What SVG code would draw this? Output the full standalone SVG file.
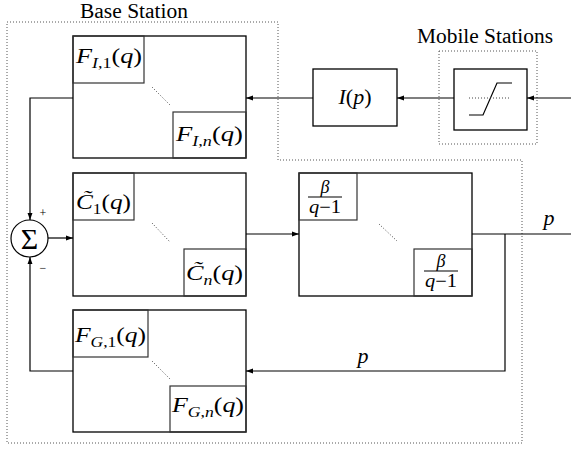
<svg xmlns="http://www.w3.org/2000/svg" width="571" height="449" viewBox="0 0 571 449" font-family="'Times New Roman', Times, 'Liberation Serif', 'Nimbus Roman', serif">
<defs>
<marker id="ah" viewBox="0 0 10 10" refX="10" refY="5" markerWidth="7" markerHeight="7" markerUnits="userSpaceOnUse" orient="auto">
<path d="M0,1.5 L10,5 L0,8.5 Z" fill="#000"/>
</marker>
</defs>
<style>
.box{fill:none;stroke:#000;stroke-width:1.3}
.inner{fill:none;stroke:#333;stroke-width:1.2}
.ln{fill:none;stroke:#000;stroke-width:1.2}
.arr{fill:none;stroke:#000;stroke-width:1.2;marker-end:url(#ah)}
.dot{fill:none;stroke:#555;stroke-width:1;stroke-dasharray:1 2}
.dg{fill:none;stroke:#444;stroke-width:1;stroke-dasharray:1 2}
.lbl{font-size:20px;fill:#000}
.m{font-size:22px;font-style:italic;fill:#000}
.up{font-style:normal}
.sub{font-size:15px}
.fr{font-size:18px}
.pm{font-size:12px;fill:#000}
</style>

<g id="base-station-boundary">
<path class="dot" d="M7,22 H278 V160 H522 V443 H7 Z"/>
<text class="lbl" x="134" y="18" text-anchor="middle" textLength="108" lengthAdjust="spacingAndGlyphs">Base Station</text>
</g>

<g id="mobile-stations-boundary">
<rect class="dot" x="439" y="51" width="98" height="93"/>
<text class="lbl" x="485" y="43" text-anchor="middle" textLength="136" lengthAdjust="spacingAndGlyphs">Mobile Stations</text>
</g>

<g id="saturation">
<rect class="box" x="454" y="69" width="73" height="61"/>
<path class="ln" d="M469,115 H483 L497,83 H512"/>
<path class="dg" d="M469,98 H511"/>
</g>

<g id="I-block">
<rect class="box" x="313" y="69" width="84" height="57"/>
<text class="m" x="355" y="104" text-anchor="middle">I<tspan class="up">(</tspan>p<tspan class="up">)</tspan></text>
</g>

<g id="FI-block">
<rect class="box" x="73" y="36" width="173" height="122"/>
<rect class="inner" x="73" y="36" width="71" height="47"/>
<rect class="inner" x="173" y="112" width="73" height="46"/>
<path class="dg" d="M152,87 L170,105"/>
<text class="m" x="76" y="63" textLength="66" lengthAdjust="spacingAndGlyphs">F<tspan class="sub" dy="5">I<tspan class="up">,1</tspan></tspan><tspan class="up" dy="-5">(</tspan>q<tspan class="up">)</tspan></text>
<text class="m" x="176" y="141" textLength="67" lengthAdjust="spacingAndGlyphs">F<tspan class="sub" dy="5">I<tspan class="up">,</tspan>n</tspan><tspan class="up" dy="-5">(</tspan>q<tspan class="up">)</tspan></text>
</g>

<g id="sum">
<circle cx="29.5" cy="238.5" r="18.5" fill="#fff" stroke="#000" stroke-width="1.2"/>
<text x="29.5" y="249" text-anchor="middle" font-size="30">Σ</text>
<text class="pm" x="43" y="217" text-anchor="middle">+</text>
<text class="pm" x="43" y="272" text-anchor="middle">−</text>
</g>

<g id="C-block">
<rect class="box" x="73" y="173" width="173" height="123"/>
<rect class="inner" x="73" y="173" width="61" height="47"/>
<rect class="inner" x="184" y="249" width="62" height="47"/>
<path class="dg" d="M152,223 L170,242"/>
<text class="m" x="76" y="209" textLength="55" lengthAdjust="spacingAndGlyphs">C̃<tspan class="sub up" dy="5">1</tspan><tspan class="up" dy="-5">(</tspan>q<tspan class="up">)</tspan></text>
<text class="m" x="186" y="280" textLength="57" lengthAdjust="spacingAndGlyphs">C̃<tspan class="sub" dy="5">n</tspan><tspan class="up" dy="-5">(</tspan>q<tspan class="up">)</tspan></text>
</g>

<g id="integrator-block">
<rect class="box" x="299" y="173" width="173" height="123"/>
<rect class="inner" x="299" y="173" width="58" height="47"/>
<rect class="inner" x="414" y="249" width="58" height="47"/>
<path class="dg" d="M379,224 L397,241"/>
<text class="m fr" x="325" y="193" text-anchor="middle">β</text>
<path class="ln" d="M308,197 H342" stroke-width="1"/>
<text class="m fr" x="309" y="213" textLength="32" lengthAdjust="spacingAndGlyphs">q<tspan class="up">−1</tspan></text>
<text class="m fr" x="441" y="267" text-anchor="middle">β</text>
<path class="ln" d="M424,271 H458" stroke-width="1"/>
<text class="m fr" x="425" y="287" textLength="32" lengthAdjust="spacingAndGlyphs">q<tspan class="up">−1</tspan></text>
</g>

<g id="FG-block">
<rect class="box" x="73" y="310" width="173" height="122"/>
<rect class="inner" x="73" y="310" width="75" height="47"/>
<rect class="inner" x="170" y="386" width="76" height="46"/>
<path class="dg" d="M152,361 L170,379"/>
<text class="m" x="75" y="342" textLength="71" lengthAdjust="spacingAndGlyphs">F<tspan class="sub" dy="5">G<tspan class="up">,1</tspan></tspan><tspan class="up" dy="-5">(</tspan>q<tspan class="up">)</tspan></text>
<text class="m" x="172" y="412" textLength="72" lengthAdjust="spacingAndGlyphs">F<tspan class="sub" dy="5">G<tspan class="up">,</tspan>n</tspan><tspan class="up" dy="-5">(</tspan>q<tspan class="up">)</tspan></text>
</g>

<g id="connectors">
<path class="arr" d="M571,98 H527"/>
<path class="arr" d="M454,98 H397"/>
<path class="arr" d="M313,98 H246"/>
<path class="arr" d="M73,98 H30 V220"/>
<path class="arr" d="M48,238 H73"/>
<path class="arr" d="M246,234 H299"/>
<path class="ln" d="M472,234 H571"/>
<path class="arr" d="M505,234 V371 H246"/>
<path class="arr" d="M73,371 H30 V257"/>
<text class="m" x="549" y="225" text-anchor="middle">p</text>
<text class="m" x="363" y="363" text-anchor="middle">p</text>
</g>
</svg>
